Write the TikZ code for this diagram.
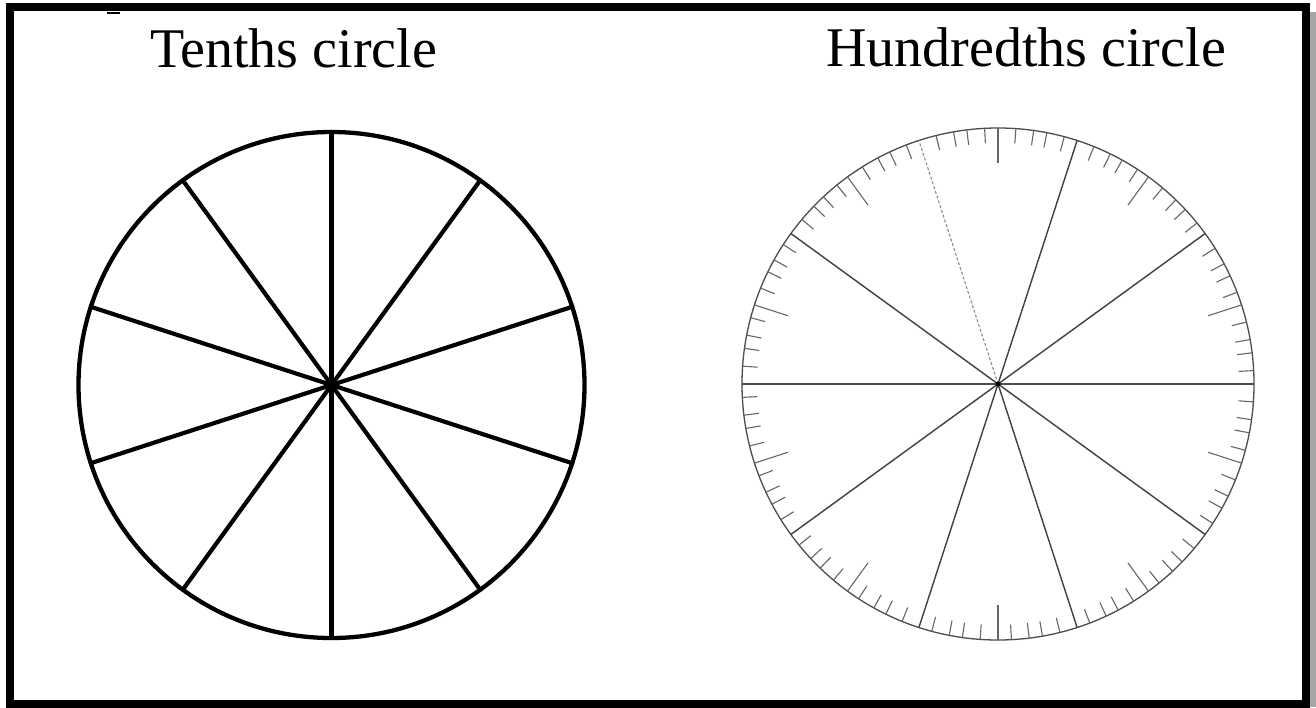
\documentclass[tikz,border=0pt]{standalone}
\usepackage{fontspec}
\setmainfont{Liberation Serif}
\usetikzlibrary{calc}
\begin{document}
\begin{tikzpicture}[x=1pt,y=-1pt,
  titlefont/.style={font=\fontsize{56}{60}\selectfont, inner sep=0, anchor=base},
  tenthcirc/.style={circle, draw=black, line width=4.3, minimum size=506, inner sep=0, outer sep=0},
  hundcirc/.style={circle, draw=black!70, line width=1.3, minimum size=512, inner sep=0, outer sep=0},
  thickspoke/.style={line width=4.2, black},
  thinspoke/.style={line width=1.4, black!75},
  faintspoke/.style={line width=1.1, black!45, dash pattern=on 3pt off 2pt},
  tick/.style={line width=1.1, black!60}]
\useasboundingbox (0,0) rectangle (1316,707);
\fill[white] (0,0) rectangle (1316,707);
% shadow and frame
\fill[black!35] (1309,12) rectangle (1316,707);
\draw[line width=8, black] (10,7) rectangle (1305.5,704);
\fill[black] (107,11.5) rectangle (120,14);
% titles
\node[titlefont] (t1) at (293.5,67) {Tenths circle};
\node[titlefont] (t2) at (1026,66) {Hundredths circle};
% tenths circle
\node[tenthcirc] (c1) at (331.5,385) {};
\foreach \a in {90,126,162,198,234,270,306,342,18,54}
  \draw[thickspoke, line cap=round] (c1.center) -- (c1.\a);
\fill[black] (c1.center) circle (4.5);
% hundredths circle
\node[hundcirc] (c2) at (998,384) {};
\foreach \a in {0,36,72,144,180,216,252,288,324}
  \draw[thinspoke] (c2.center) -- (c2.\a);
\draw[faintspoke] (c2.center) -- (c2.108);
\draw[line width=1.8, black!70] (c2.180) -- (c2.0);
\fill[black] (c2.center) circle (2.5);
\foreach \i in {0,...,99}{
  \pgfmathsetmacro{\ang}{\i*3.6}
  \pgfmathtruncatemacro{\mfive}{mod(\i,5)}
  \pgfmathtruncatemacro{\mten}{mod(\i,10)}
  \ifnum\mten=0\relax
  \else
    \ifnum\mfive=0\relax
      \draw[tick] (c2.\ang) -- ($(c2.\ang)!35pt!(c2.center)$);
    \else
      \draw[tick] (c2.\ang) -- ($(c2.\ang)!15pt!(c2.center)$);
    \fi
  \fi
}
\end{tikzpicture}
\end{document}
